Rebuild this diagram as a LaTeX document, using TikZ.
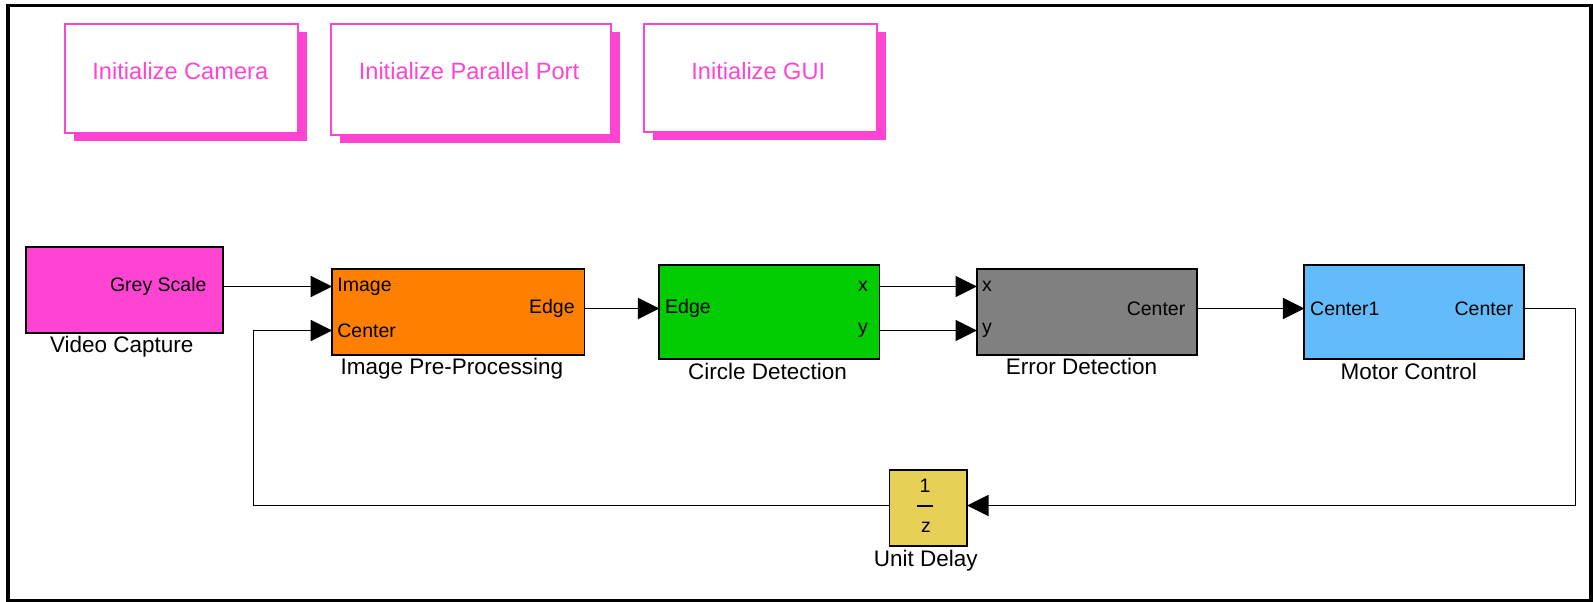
\documentclass[tikz,border=0pt]{standalone}
\usepackage{fontspec}
\setmainfont{Liberation Sans}
\usetikzlibrary{arrows.meta,shadows}
\definecolor{pinkc}{RGB}{255,68,212}
\definecolor{orangec}{RGB}{255,128,0}
\definecolor{greenc}{RGB}{0,204,0}
\definecolor{grayc}{RGB}{128,128,128}
\definecolor{bluec}{RGB}{98,188,252}
\definecolor{yellowc}{RGB}{230,208,86}
\begin{document}
\begin{tikzpicture}[x=1pt,y=-1pt,
  blk/.style={draw=black, line width=1.8pt, inner sep=0pt, outer sep=0pt},
  initbox/.style={draw=pinkc, fill=white, line width=2pt, inner sep=0pt, outer sep=0pt,
    drop shadow={shadow xshift=9pt, shadow yshift=-8pt, fill=pinkc, draw=none, opacity=1}},
  inittxt/.style={text=pinkc, font=\fontsize{23.6}{28}\selectfont, inner sep=0pt},
  port/.style={font=\fontsize{19.5}{23}\selectfont, inner sep=0pt},
  lbl/.style={font=\fontsize{22.5}{26}\selectfont, inner sep=0pt, anchor=base},
  conn/.style={line width=1.8pt, -{Triangle[length=21.5pt,width=21pt]}},
]
\fill[white] (0,0) rectangle (1593,602);
\useasboundingbox (0,0) rectangle (1593,602);
\draw[line width=3.6pt] (8,5.6) rectangle (1591,600.5);

% initialization boxes
\node[initbox, minimum width=233pt, minimum height=109.3pt] (cam) at (181.5,78.65) {};
\node[initbox, minimum width=279.6pt, minimum height=110.5pt] (par) at (471.2,79.25) {};
\node[initbox, minimum width=233pt, minimum height=108.3pt] (gui) at (760.5,78.15) {};
\node[inittxt] (camt) at (180.3,71) {Initialize Camera};
\node[inittxt] (part) at (469,71) {Initialize Parallel Port};
\node[inittxt] (guit) at (758.3,71) {Initialize GUI};

% blocks
\node[blk, fill=pinkc, minimum width=197.3pt, minimum height=85.4pt] (vc) at (124.65,290) {};
\node[blk, fill=orangec, minimum width=252.2pt, minimum height=86pt] (ipp) at (458.3,312) {};
\node[blk, fill=greenc, minimum width=220.1pt, minimum height=94pt] (cd) at (769.35,312) {};
\node[blk, fill=grayc, minimum width=220pt, minimum height=86pt] (ed) at (1087,312) {};
\node[blk, fill=bluec, minimum width=220pt, minimum height=94pt] (mc) at (1414.3,312) {};
\node[blk, fill=yellowc, minimum width=77.5pt, minimum height=76pt] (ud) at (928.25,508) {};

% port labels
\node[port, anchor=east] (vcgs) at ([xshift=-16.6pt, yshift=3.5pt]vc.east) {Grey Scale};
\node[port, anchor=west] (ippim) at ([xshift=5pt, yshift=25.5pt]ipp.west) {Image};
\node[port, anchor=west] (ippce) at ([xshift=5pt, yshift=-18.5pt]ipp.west) {Center};
\node[port, anchor=east] (ippe) at ([xshift=-9.6pt, yshift=3.5pt]ipp.east) {Edge};
\node[port, anchor=west] (cde) at ([xshift=5.7pt, yshift=3.5pt]cd.west) {Edge};
\node[port, anchor=east] (cdx) at ([xshift=-11.4pt, yshift=25.5pt]cd.east) {x};
\node[port, anchor=east] (cdy) at ([xshift=-11.4pt, yshift=-18.5pt]cd.east) {y};
\node[port, anchor=west] (edx) at ([xshift=5pt, yshift=25.5pt]ed.west) {x};
\node[port, anchor=west] (edy) at ([xshift=5pt, yshift=-18.5pt]ed.west) {y};
\node[port, anchor=east] (edc) at ([xshift=-11.5pt, yshift=3.5pt]ed.east) {Center};
\node[port, anchor=west] (mcc1) at ([xshift=5.7pt, yshift=3.5pt]mc.west) {Center1};
\node[port, anchor=east] (mcc) at ([xshift=-11pt, yshift=3.5pt]mc.east) {Center};

% unit delay content
\node[port] (ud1) at (925,486) {1};
\node[port] (udz) at (926,527) {z};
\draw[line width=2pt] ([xshift=-11.25pt, yshift=2.5pt]ud.center) -- ([xshift=4.75pt, yshift=2.5pt]ud.center);

% block labels
\node[lbl] (vcl) at (121.8,352.7) {Video Capture};
\node[lbl] (ippl) at (452,374) {Image Pre-Processing};
\node[lbl] (cdl) at (767.6,379) {Circle Detection};
\node[lbl] (edl) at (1081.6,374.5) {Error Detection};
\node[lbl] (mcl) at (1408.8,379.5) {Motor Control};
\node[lbl] (udl) at (925.8,566) {Unit Delay};

% connectors
\coordinate (rt) at (1575.5,505.5);
\coordinate (lt) at (253.5,505.5);
\draw[conn] ([yshift=3.5pt]vc.east) -- ([yshift=25.5pt]ipp.west);
\draw[conn] ([yshift=3.5pt]ipp.east) -- ([yshift=3.5pt]cd.west);
\draw[conn] ([yshift=25.5pt]cd.east) -- ([yshift=25.5pt]ed.west);
\draw[conn] ([yshift=-18.5pt]cd.east) -- ([yshift=-18.5pt]ed.west);
\draw[conn] ([yshift=3.5pt]ed.east) -- ([yshift=3.5pt]mc.west);
\draw[conn] ([yshift=3.5pt]mc.east) -| (rt) -- ([yshift=2.5pt]ud.east);
\draw[conn] ([yshift=2.5pt]ud.west) -- (lt) |- ([yshift=-18.5pt]ipp.west);
\end{tikzpicture}
\end{document}
